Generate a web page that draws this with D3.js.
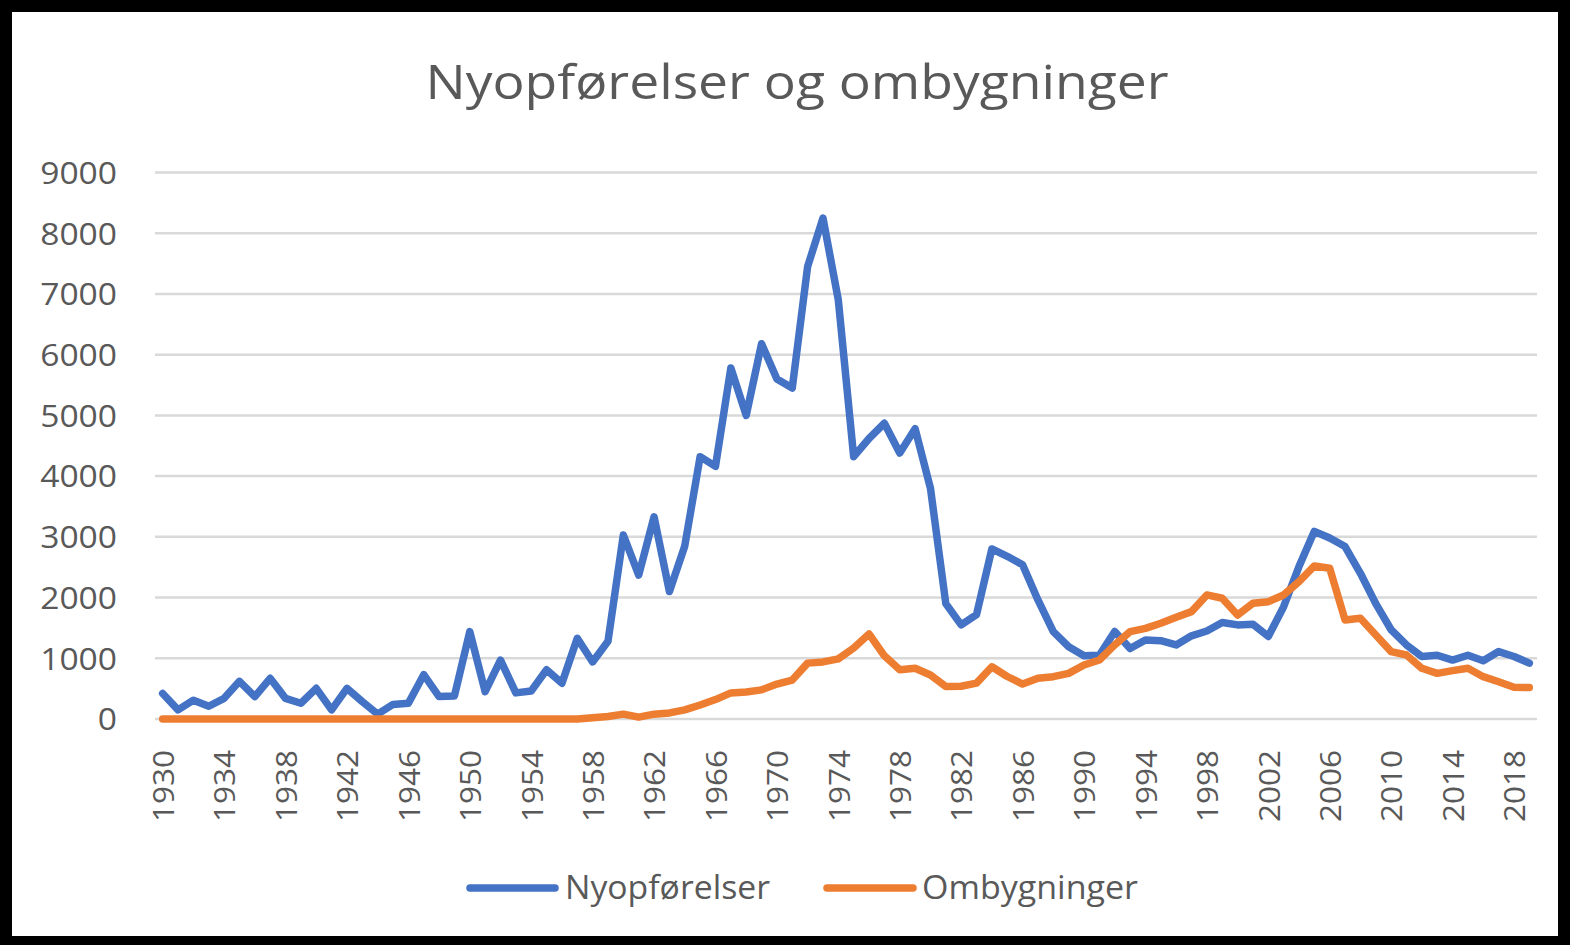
<!DOCTYPE html>
<html>
<head>
<meta charset="utf-8">
<script src="https://cdn.jsdelivr.net/npm/d3@7"></script>
<style>
  html, body { margin: 0; padding: 0; background: #000; }
  svg { display: block; }
  text { font-family: "Open Sans", "Noto Sans", sans-serif; fill: #595959; }
</style>
</head>
<body>
<svg id="chart" width="1570" height="945"></svg>
<script>
const title = "Nyopførelser og ombygninger";
const seriesNames = ["Nyopførelser", "Ombygninger"];
const years = d3.range(1930, 2020);
const nyopforelser = [
  420, 150, 310, 210, 340, 620, 370, 670, 340, 260,
  505, 150, 505, 285, 80, 240, 260, 730, 370, 380,
  1440, 450, 970, 430, 460, 810, 590, 1330, 940, 1280,
  3030, 2370, 3330, 2100, 2850, 4320, 4160, 5780, 5000, 6180,
  5600, 5450, 7450, 8250, 6900, 4320, 4620, 4870, 4380, 4780,
  3800, 1900, 1550, 1720, 2800, 2680, 2540, 1960, 1440, 1190,
  1040, 1050, 1440, 1160, 1300, 1290, 1220, 1370, 1450, 1590,
  1550, 1560, 1360, 1850, 2510, 3090, 2980, 2840, 2400, 1900,
  1470, 1220, 1030, 1050, 970, 1050, 960, 1110, 1030, 920
];
const ombygninger = [
  0, 0, 0, 0, 0, 0, 0, 0, 0, 0,
  0, 0, 0, 0, 0, 0, 0, 0, 0, 0,
  0, 0, 0, 0, 0, 0, 0, 0, 20, 40,
  80, 30, 80, 100, 150, 230, 320, 430, 445, 480,
  576, 642, 920, 940, 990, 1170, 1400, 1040, 810, 835,
  725, 535, 540, 590, 860, 700, 576, 670, 697, 752,
  890, 972, 1220, 1438, 1493, 1576, 1675, 1768, 2043, 1988,
  1713, 1905, 1932, 2043, 2262, 2520, 2482, 1630, 1659, 1384,
  1109, 1054, 835, 752, 796, 835, 697, 614, 522, 520
];
const yTicks = [0, 1000, 2000, 3000, 4000, 5000, 6000, 7000, 8000, 9000];
const xTickYears = d3.range(1930, 2020, 4);
const colors = ["#4472C4", "#ED7D31"];

const svg = d3.select("#chart");
// white card
svg.append("rect").attr("x", 12).attr("y", 12).attr("width", 1546).attr("height", 924).attr("fill", "#fff");

const x = d3.scalePoint().domain(years).range([155, 1537]).padding(0.5);
const y = d3.scaleLinear().domain([0, 9000]).range([719, 172.5]);

// gridlines
svg.append("g").selectAll("line").data(yTicks).join("line")
  .attr("x1", 155).attr("x2", 1537)
  .attr("y1", d => y(d)).attr("y2", d => y(d))
  .attr("stroke", "#d9d9d9").attr("stroke-width", 2.5);

// y axis labels
const yAxis = d3.axisLeft(y).tickValues(yTicks).tickSize(0).tickPadding(0).tickFormat(d3.format("d"));
const yg = svg.append("g").attr("transform", "translate(117,0)").call(yAxis);
yg.select(".domain").remove();
yg.selectAll("text").attr("font-size", 31).attr("fill", "#595959")
  .attr("font-family", "'Open Sans', sans-serif").attr("dy", "0.35em")
  .attr("textLength", d => String(d).length * 19.2).attr("lengthAdjust", "spacingAndGlyphs");

// x axis labels
const xAxis = d3.axisBottom(x).tickValues(xTickYears).tickSize(0).tickPadding(0);
const xg = svg.append("g").attr("transform", "translate(0,750)").call(xAxis);
xg.select(".domain").remove();
xg.selectAll("text")
  .attr("font-size", 30).attr("fill", "#595959").attr("font-family", "'Open Sans', sans-serif")
  .attr("transform", "rotate(-90)")
  .attr("text-anchor", "end")
  .attr("x", 0).attr("y", 0).attr("dy", "0.36em")
  .attr("textLength", 72).attr("lengthAdjust", "spacingAndGlyphs");

// lines
const line = d3.line().x((d, i) => x(years[i])).y(d => y(d));
[nyopforelser, ombygninger].forEach((s, k) => {
  svg.append("path").datum(s)
    .attr("d", line)
    .attr("fill", "none")
    .attr("stroke", colors[k])
    .attr("stroke-width", 7.5)
    .attr("stroke-linejoin", "round")
    .attr("stroke-linecap", "round");
});

// title
svg.append("text").attr("x", 797).attr("y", 99).attr("text-anchor", "middle")
  .attr("font-size", 48).attr("textLength", 743).attr("lengthAdjust", "spacingAndGlyphs").text(title);

// legend
const legendItems = [
  {name: seriesNames[0], color: colors[0], x1: 470, x2: 555, tx: 565, w: 205},
  {name: seriesNames[1], color: colors[1], x1: 827, x2: 913, tx: 922, w: 216}
];
const lg = svg.append("g");
legendItems.forEach(it => {
  lg.append("line").attr("x1", it.x1).attr("x2", it.x2).attr("y1", 888).attr("y2", 888)
    .attr("stroke", it.color).attr("stroke-width", 7.5).attr("stroke-linecap", "round");
  lg.append("text").attr("x", it.tx).attr("y", 888).attr("dy", "0.35em")
    .attr("font-size", 32).attr("textLength", it.w).attr("lengthAdjust", "spacingAndGlyphs").text(it.name);
});
</script>
</body>
</html>
